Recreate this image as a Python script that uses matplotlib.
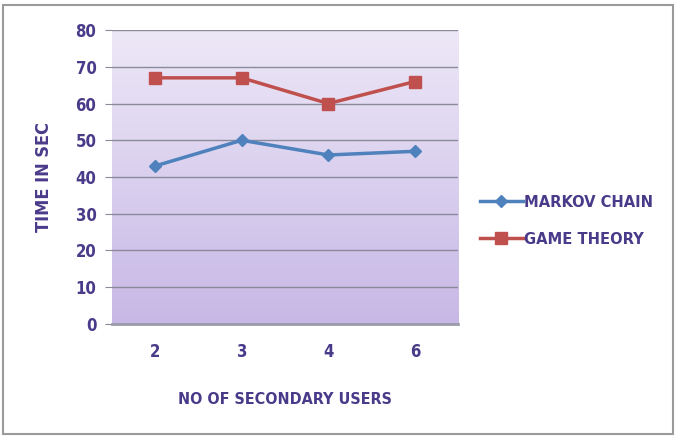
import numpy as np
import matplotlib
matplotlib.use('Agg')
import matplotlib.pyplot as plt
from matplotlib.patches import Rectangle

categories = ['2', '3', '4', '6']
markov_chain = [43, 50, 46, 47]
game_theory = [67, 67, 60, 66]
y_ticks = [0, 10, 20, 30, 40, 50, 60, 70, 80]

TEXT_COLOR = '#4a3a8a'
plt.rcParams['font.family'] = ['DejaVu Sans']
plt.rcParams['font.stretch'] = 'condensed'

fig = plt.figure(figsize=(6.77, 4.36), dpi=100)
fig.patch.set_facecolor('white')
fig.patches.append(Rectangle((0.004, 0.004), 0.99, 0.985, transform=fig.transFigure,
                             fill=False, edgecolor='#9a9a9a', linewidth=1.5))

ax = fig.add_axes([0.165, 0.257, 0.512, 0.674])
x = np.arange(len(categories))

# lavender gradient background
grad = np.linspace(0, 1, 256).reshape(-1, 1)
top = np.array([0.93, 0.91, 0.97])
bottom = np.array([0.78, 0.72, 0.90])
img = top + (bottom - top) * grad[:, :, None]
ax.imshow(img, extent=[-0.5, 3.5, 0, 80], aspect='auto', zorder=0, origin='upper')

for yv in y_ticks[1:]:
    ax.axhline(yv, color='#8a8a9a', linewidth=1, zorder=1)

ax.plot(x, markov_chain, color='#4f81bd', linewidth=2.5, marker='D', markersize=6,
        label='MARKOV CHAIN', zorder=3)
ax.plot(x, game_theory, color='#c0504d', linewidth=2.5, marker='s', markersize=9,
        label='GAME THEORY', zorder=3)

ax.set_xlim(-0.5, 3.5)
ax.set_ylim(0, 80)
ax.set_xticks(x)
ax.set_xticklabels(categories)
ax.set_yticks(y_ticks)
ax.tick_params(axis='x', length=0, pad=14)
ax.tick_params(axis='y', length=5, color='#8a8a9a', pad=6)
for lab in ax.get_xticklabels() + ax.get_yticklabels():
    lab.set_fontsize(12)
    lab.set_fontweight('bold')
    lab.set_color(TEXT_COLOR)

for side in ['top', 'right', 'left']:
    ax.spines[side].set_visible(False)
ax.spines['bottom'].set_color('#9a9aaa')
ax.spines['bottom'].set_linewidth(2)

ax.set_xlabel('NO OF SECONDARY USERS', fontsize=11.5, fontweight='bold', color=TEXT_COLOR, labelpad=22)
ax.set_ylabel('TIME IN SEC', fontsize=13, fontweight='bold', color=TEXT_COLOR, labelpad=16)

leg = ax.legend(loc='center left', bbox_to_anchor=(1.02, 0.35), frameon=False,
                prop={'size': 11.8, 'weight': 'bold'}, handlelength=2.6, handletextpad=0.1,
                labelspacing=1.35)
for t in leg.get_texts():
    t.set_color(TEXT_COLOR)

fig.savefig('out.png', dpi=100)
